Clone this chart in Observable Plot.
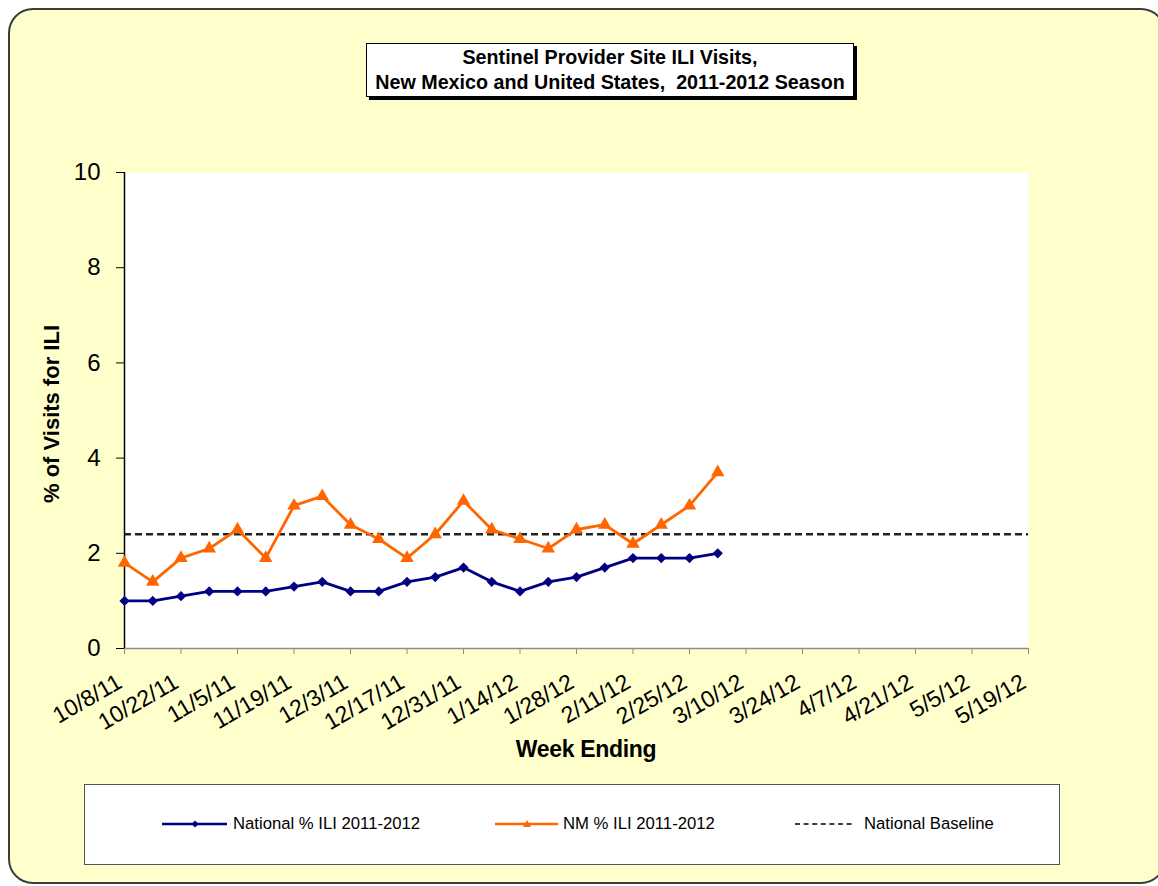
<!DOCTYPE html>
<html>
<head>
<meta charset="utf-8">
<script src="https://cdn.jsdelivr.net/npm/d3@7"></script>
<script src="https://cdn.jsdelivr.net/npm/@observablehq/plot@0.6"></script>
<style>
  html, body { margin: 0; padding: 0; background: #ffffff; }
  body { font-family: Arial, "Liberation Sans", sans-serif; }
  #page { position: relative; width: 1158px; height: 886px; overflow: hidden; }
  #frame { position: absolute; left: 8px; top: 8px; width: 1154px; height: 872px;
           border: 2px solid #3c3c3c; border-radius: 25px; background: #FFFFCC; }
  #chart { position: absolute; left: 0; top: 0; }
  #title { position: absolute; left: 366px; top: 43px; width: 488px; height: 54px; box-sizing: border-box;
           border: 1px solid #000; background: #fff; box-shadow: 3px 3px 0 #000;
           text-align: center; font-weight: bold; font-size: 19.7px; line-height: 25px; padding-top: 1px; color: #000; }
  #ylabel { position: absolute; left: 52px; top: 414px; transform: translate(-50%, -50%) rotate(-90deg);
            white-space: nowrap; font-weight: bold; font-size: 22px; color: #000; }
  #xlabel { position: absolute; left: 586px; top: 738px; transform: translateX(-50%);
            white-space: nowrap; font-weight: bold; font-size: 23px; line-height: 22px; color: #000; letter-spacing: -0.3px; }
  #legend { position: absolute; left: 84px; top: 784px; width: 976px; height: 81px; box-sizing: border-box;
            border: 1.5px solid #555; background: #fff; }
  .lg-text { position: absolute; top: 815px; font-size: 16.7px; line-height: 18px; color: #000; white-space: nowrap; }
  .lg-swatch { position: absolute; top: 818px; }
</style>
</head>
<body>
<div id="page">
  <div id="frame"></div>
  <div id="chart"></div>
  <div id="title">Sentinel Provider Site ILI Visits,<br>New Mexico and United States,&nbsp; 2011-2012 Season</div>
  <div id="ylabel">% of Visits for ILI</div>
  <div id="xlabel">Week Ending</div>
  <div id="legend"></div>
  <svg class="lg-swatch" style="left:160px" width="70" height="12">
    <line x1="2" y1="6" x2="67" y2="6" stroke="#000080" stroke-width="2.5"/>
    <path d="M35,2.5 L38.5,6 L35,9.5 L31.5,6 Z" fill="#000080"/>
  </svg>
  <div class="lg-text" style="left:233px">National % ILI 2011-2012</div>
  <svg class="lg-swatch" style="left:493px" width="70" height="12">
    <line x1="2" y1="6" x2="65" y2="6" stroke="#FF6600" stroke-width="2.5"/>
    <path d="M34,2 L38,9 L30,9 Z" fill="#FF6600"/>
  </svg>
  <div class="lg-text" style="left:563px">NM % ILI 2011-2012</div>
  <svg class="lg-swatch" style="left:793px" width="66" height="12">
    <line x1="2" y1="6" x2="62" y2="6" stroke="#000" stroke-width="1.5" stroke-dasharray="5,3.6"/>
  </svg>
  <div class="lg-text" style="left:864px">National Baseline</div>
</div>
<script>
// ---- data ----
const weeks = ["10/8/11","10/15/11","10/22/11","10/29/11","11/5/11","11/12/11","11/19/11","11/26/11",
  "12/3/11","12/10/11","12/17/11","12/24/11","12/31/11","1/7/12","1/14/12","1/21/12","1/28/12","2/4/12",
  "2/11/12","2/18/12","2/25/12","3/3/12","3/10/12","3/17/12","3/24/12","3/31/12","4/7/12","4/14/12",
  "4/21/12","4/28/12","5/5/12","5/12/12","5/19/12"];
const tickLabels = ["10/8/11","10/22/11","11/5/11","11/19/11","12/3/11","12/17/11","12/31/11","1/14/12",
  "1/28/12","2/11/12","2/25/12","3/10/12","3/24/12","4/7/12","4/21/12","5/5/12","5/19/12"];
const nationalILI = [1.0,1.0,1.1,1.2,1.2,1.2,1.3,1.4,1.2,1.2,1.4,1.5,1.7,1.4,1.2,1.4,1.5,1.7,1.9,1.9,1.9,2.0];
const nmILI = [1.8,1.4,1.9,2.1,2.5,1.9,3.0,3.2,2.6,2.3,1.9,2.4,3.1,2.5,2.3,2.1,2.5,2.6,2.2,2.6,3.0,3.7];
const nationalBaseline = 2.4;
const yTicks = [0,2,4,6,8,10];

const natData = nationalILI.map((v,i)=>({week: weeks[i], value: v}));
const nmData = nmILI.map((v,i)=>({week: weeks[i], value: v}));

const chart = Plot.plot({
  width: 1158,
  height: 780,
  marginLeft: 124,
  marginRight: 130,
  marginTop: 172,
  marginBottom: 132,
  style: { background: "transparent", fontFamily: "Arial, 'Liberation Sans', sans-serif", overflow: "visible", color: "#000" },
  x: { type: "point", domain: weeks, padding: 0, round: false, label: null },
  y: { domain: [0, 10], label: null },
  marks: [
    Plot.frame({ fill: "white", stroke: "none" }),
    Plot.ruleY([nationalBaseline], { stroke: "#222", strokeWidth: 2.5, strokeDasharray: "7,4" }),
    Plot.ruleY([0], { stroke: "#8c8c8c", strokeWidth: 1.5 }),
    Plot.axisX({ ticks: tickLabels, tickSize: 6, stroke: "#8c8c8c", fill: "none", label: null }),
    Plot.text(tickLabels, { x: d => d, frameAnchor: "bottom", dy: 38, dx: -1, rotate: -30,
      textAnchor: "end", lineAnchor: "bottom", fontSize: 23, fill: "#000" }),
    Plot.axisY({ ticks: yTicks, tickSize: 8, tickPadding: 16, fontSize: 24, stroke: "#000", fill: "#000", label: null }),
    Plot.ruleX([weeks[0]], { stroke: "#000", strokeWidth: 1.5 }),
    Plot.line(nmData, { x: "week", y: "value", stroke: "#FF6600", strokeWidth: 2.8 }),
    Plot.dot(nmData, { x: "week", y: "value", symbol: "triangle", r: 5, fill: "#FF6600", stroke: "none" }),
    Plot.line(natData, { x: "week", y: "value", stroke: "#000080", strokeWidth: 2.8 }),
    Plot.dot(natData, { x: "week", y: "value", symbol: "diamond2", r: 4.6, fill: "#000080", stroke: "none" })
  ]
});
document.getElementById("chart").appendChild(chart);
</script>
</body>
</html>
